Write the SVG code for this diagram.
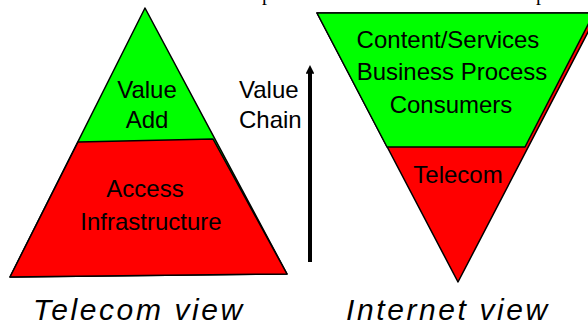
<svg xmlns="http://www.w3.org/2000/svg" width="588" height="326" viewBox="0 0 588 326">
  <style>
    .shape { stroke: #000; stroke-width: 1.5; stroke-linejoin: round; }
    .green { fill: #00ff00; }
    .red { fill: #ff0000; }
    .lbl { font-family: "Liberation Sans", Arial, sans-serif; font-size: 24px; fill: #000; text-anchor: middle; }
    .cap { font-family: "Liberation Sans", Arial, sans-serif; font-style: italic; font-size: 30px; fill: #000; letter-spacing: 2.6px; }
    .stub { font-family: "Liberation Serif", "Times New Roman", serif; font-size: 20px; fill: #000; }
  </style>
  <defs>
    <marker id="head" viewBox="0 0 10 10" refX="2" refY="5" markerWidth="2.4" markerHeight="2.2" markerUnits="strokeWidth" orient="auto">
      <path d="M0,0 L10,5 L0,10 Z" fill="#000"/>
    </marker>
  </defs>

  <rect width="588" height="326" fill="#fff"/>

  <!-- text line running off the top edge -->
  <text class="stub" x="262" y="0">p</text>
  <text class="stub" x="536" y="0">p</text>

  <!-- pyramid: telecom view -->
  <g id="telecom-pyramid">
    <polygon class="shape green" points="145,8 10,277 287,274"/>
    <polygon class="shape red" points="78,142 213,139 287,274 10,277"/>
    <text class="lbl" x="147" y="98">Value</text>
    <text class="lbl" x="147" y="128">Add</text>
    <text class="lbl" x="145" y="197">Access</text>
    <text class="lbl" x="151" y="230">Infrastructure</text>
  </g>

  <!-- value chain arrow -->
  <g id="connectors">
    <line x1="310" y1="262" x2="310" y2="72" stroke="#000" stroke-width="4" marker-end="url(#head)"/>
  </g>
  <g id="value-chain">
    <text class="lbl" style="text-anchor:start" x="239" y="98">Value</text>
    <text class="lbl" style="text-anchor:start" x="239" y="128">Chain</text>
  </g>

  <!-- inverted pyramid: internet view -->
  <g id="internet-pyramid">
    <polygon class="shape red" points="317,13 598,13 458,282"/>
    <polygon class="shape green" points="317,13 594,13 525,147 387,147"/>
    <text class="lbl" x="448" y="48">Content/Services</text>
    <text class="lbl" x="452" y="80">Business Process</text>
    <text class="lbl" x="451" y="113">Consumers</text>
    <text class="lbl" x="458" y="183">Telecom</text>
  </g>

  <!-- captions -->
  <g id="captions">
    <text class="cap" x="33" y="320">Telecom view</text>
    <text class="cap" x="346" y="320">Internet view</text>
  </g>
</svg>
